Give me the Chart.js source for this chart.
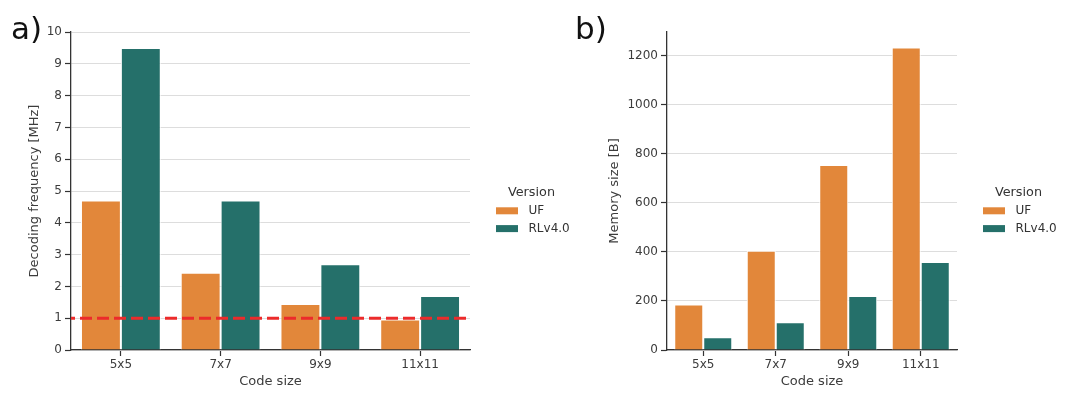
<!DOCTYPE html>
<html>
<head>
<meta charset="utf-8">
<title>Decoding frequency and memory size</title>
<script src="https://cdn.jsdelivr.net/npm/chart.js@4.4.0/dist/chart.umd.min.js"></script>
<style>
    body { margin: 0; background: #fff; }
    #page { position: relative; width: 1080px; height: 412px; overflow: hidden; font-family: 'DejaVu Sans', sans-serif; }
    .panel { position: absolute; top: 0; height: 412px; }
    #panelA { left: 0; width: 600px; }
    #panelB { left: 560px; width: 520px; }
    .tag { position: absolute; font-size: 31px; line-height: 31px; color: #111; }
</style>
</head>
<body>
<div id="page">
    <div class="panel" id="panelA"><canvas id="freqChart"></canvas></div>
    <div class="panel" id="panelB"><canvas id="memChart"></canvas></div>
    <div class="tag" style="left:11px; top:13px;">a)</div>
    <div class="tag" style="left:575px; top:13px;">b)</div>
</div>
<script>
// ========================================
// DADOS
// ========================================

const codeSizes = ['5x5', '7x7', '9x9', '11x11'];
const versions = ['UF', 'RLv4.0'];

const freqUF = [4.7, 2.43, 1.45, 0.96];
const freqRL = [9.5, 4.7, 2.7, 1.7];
const freqTicks = [0, 1, 2, 3, 4, 5, 6, 7, 8, 9, 10];
const freqMax = 10;
const freqLimit = 1;

const memUF = [186, 405, 755, 1234];
const memRL = [52, 113, 220, 359];
const memTicks = [0, 200, 400, 600, 800, 1000, 1200];
const memMax = 1297;

const colors = ['#e2873a', '#25706a'];

// ========================================
// PLUGINS
// ========================================

// linha tracejada vermelha (limite de 1 MHz)
const limitLine = {
    id: 'limitLine',
    afterDatasetsDraw(chart, args, opts) {
        if (opts.value === undefined) return;
        const y = chart.scales.y.getPixelForValue(opts.value);
        const { left, right } = chart.chartArea;
        const ctx = chart.ctx;
        ctx.save();
        ctx.strokeStyle = '#ec2b2b';
        ctx.lineWidth = 3;
        ctx.setLineDash([12, 5]);
        ctx.lineDashOffset = 8;
        ctx.beginPath();
        ctx.moveTo(left, y);
        ctx.lineTo(right, y);
        ctx.stroke();
        ctx.restore();
    }
};

// legenda "Version" fora da área do gráfico
const versionLegend = {
    id: 'versionLegend',
    afterDraw(chart) {
        const ctx = chart.ctx;
        const x = chart.chartArea.right + 26;
        const y = 193;
        ctx.save();
        ctx.fillStyle = '#333';
        ctx.font = '12.8px "DejaVu Sans"';
        ctx.textAlign = 'center';
        ctx.textBaseline = 'middle';
        ctx.fillText('Version', x + 35.5, y);
        ctx.font = '12px "DejaVu Sans"';
        ctx.textAlign = 'left';
        chart.data.datasets.forEach((ds, i) => {
            const yi = y + 17.8 * (i + 1);
            ctx.fillStyle = ds.backgroundColor;
            ctx.fillRect(x, yi - 3.5, 22, 7);
            ctx.fillStyle = '#333';
            ctx.fillText(ds.label, x + 32.5, yi);
        });
        ctx.restore();
    }
};

// ========================================
// GRÁFICOS
// ========================================

function makeChart(canvasId, uf, rl, yTitle, yMax, ticks, box, limit) {
    const ctx = document.getElementById(canvasId);
    const tickFont = { family: 'DejaVu Sans', size: 12 };
    const titleFont = { family: 'DejaVu Sans', size: 13 };
    return new Chart(ctx, {
        type: 'bar',
        data: {
            labels: codeSizes,
            datasets: [
                { label: versions[0], data: uf, backgroundColor: colors[0] },
                { label: versions[1], data: rl, backgroundColor: colors[1] }
            ]
        },
        plugins: [limitLine, versionLegend],
        options: {
            responsive: true,
            maintainAspectRatio: false,
            animation: false,
            layout: { padding: box.padding },
            datasets: {
                bar: {
                    categoryPercentage: 0.8,
                    barPercentage: 1.0,
                    borderColor: '#ffffff',
                    borderWidth: 1
                }
            },
            scales: {
                x: {
                    grid: {
                        offset: false,
                        drawOnChartArea: false,
                        tickLength: 6,
                        tickColor: '#333',
                        tickWidth: 1.2
                    },
                    border: { color: '#333', width: 1.3 },
                    ticks: { color: '#3c3c3c', padding: 2, font: tickFont },
                    title: {
                        display: true,
                        text: 'Code size',
                        color: '#3c3c3c',
                        padding: { top: 0, bottom: 4 },
                        font: titleFont
                    },
                    afterFit(scale) { scale.height = 43; }
                },
                y: {
                    min: 0,
                    max: yMax,
                    afterBuildTicks(scale) { scale.ticks = ticks.map(v => ({ value: v })); },
                    grid: {
                        color: '#dddddd',
                        lineWidth: 1,
                        tickLength: 6,
                        tickColor: '#333',
                        tickWidth: 1.2
                    },
                    border: { color: '#333', width: 1.3 },
                    ticks: {
                        color: '#3c3c3c',
                        padding: 3,
                        font: tickFont,
                        callback: value => String(value)
                    },
                    title: {
                        display: true,
                        text: yTitle,
                        color: '#3c3c3c',
                        padding: 4,
                        font: titleFont
                    },
                    afterFit(scale) { scale.width = box.yWidth; }
                }
            },
            plugins: {
                legend: { display: false },
                tooltip: { enabled: false },
                limitLine: { value: limit }
            }
        }
    });
}

document.addEventListener('DOMContentLoaded', function() {
    makeChart('freqChart', freqUF, freqRL, 'Decoding frequency [MHz]', freqMax, freqTicks,
        { padding: { left: 23, top: 32, right: 130, bottom: 19 }, yWidth: 48 }, freqLimit);
    makeChart('memChart', memUF, memRL, 'Memory size [B]', memMax, memTicks,
        { padding: { left: 43, top: 32, right: 123, bottom: 19 }, yWidth: 64 }, undefined);
});
</script>
</body>
</html>
